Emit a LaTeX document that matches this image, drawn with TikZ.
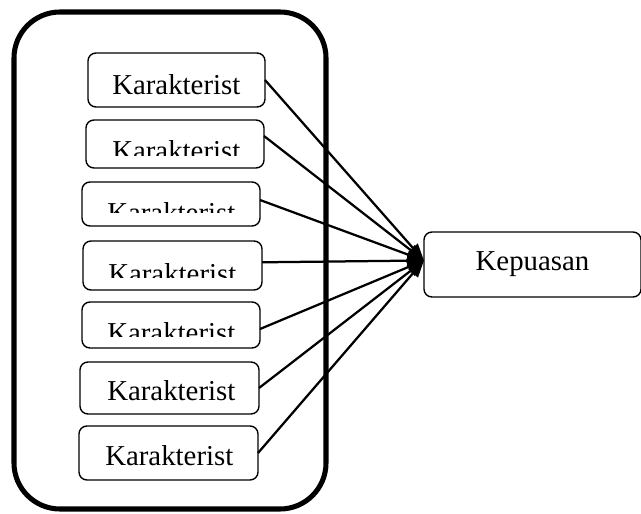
\documentclass[tikz,border=0pt]{standalone}
\usepackage{fontspec}
\setmainfont{Liberation Serif}
\usetikzlibrary{arrows.meta}

\tikzset{
    kotak/.style={draw, rounded corners=0.2cm, line width=1pt, inner sep=0pt, outer sep=0pt},
    teks/.style={anchor=base west, inner sep=0pt, font=\fontsize{20.5}{24}\selectfont},
    panah/.style={-{Triangle[length=12pt, width=9pt]}, line width=1.6pt}
}

\begin{document}
\begin{tikzpicture}[x=0.025cm, y=-0.025cm]
    \useasboundingbox (0,0) rectangle (641,514);

    % Bingkai luar
    \draw[line width=3.6pt, rounded corners=1.15cm] (14,12) rectangle (326,509);

    % Kotak karakteristik
    \node[kotak, minimum width=4.425cm, minimum height=1.35cm] (k1) at (176.5,80) {};
    \node[kotak, minimum width=4.45cm, minimum height=1.2cm] (k2) at (175,144) {};
    \node[kotak, minimum width=4.45cm, minimum height=1.1cm] (k3) at (171,204) {};
    \node[kotak, minimum width=4.475cm, minimum height=1.225cm] (k4) at (172.5,265.5) {};
    \node[kotak, minimum width=4.45cm, minimum height=1.15cm] (k5) at (171,325) {};
    \node[kotak, minimum width=4.475cm, minimum height=1.3cm] (k6) at (169.5,388) {};
    \node[kotak, minimum width=4.475cm, minimum height=1.35cm] (k7) at (168.5,453) {};

    % Teks (sebagian terpotong)
    \node[teks] (t1) at (112,94) {Karakterist};
    \begin{scope}
        \clip (86,120) rectangle (264,155);
        \node[teks] (t2) at (112,160) {Karakterist};
    \end{scope}
    \begin{scope}
        \clip (82,182) rectangle (260,212);
        \node[teks] (t3) at (107,222) {Karakterist};
    \end{scope}
    \begin{scope}
        \clip (83,241) rectangle (262,277);
        \node[teks] (t4) at (108,283) {Karakterist};
    \end{scope}
    \begin{scope}
        \clip (82,302) rectangle (260,336);
        \node[teks] (t5) at (107,342) {Karakterist};
    \end{scope}
    \node[teks] (t6) at (107,400) {Karakterist};
    \node[teks] (t7) at (105,465) {Karakterist};

    % Kepuasan
    \node[kotak, minimum width=5.425cm, minimum height=1.625cm, font=\fontsize{20.5}{24}\selectfont] (kep) at (532.5,264.5) {Kepuasan};
    \coordinate (tuju) at ([yshift=0.1cm]kep.west);

    % Panah
    \draw[panah] (k1.east) -- (tuju);
    \draw[panah] ([yshift=0.2cm]k2.east) -- (tuju);
    \draw[panah] ([yshift=0.1cm]k3.east) -- (tuju);
    \draw[panah] ([yshift=0.08cm]k4.east) -- (tuju);
    \draw[panah] ([yshift=-0.1cm]k5.east) -- (tuju);
    \draw[panah] (k6.east) -- (tuju);
    \draw[panah] (k7.east) -- (tuju);
\end{tikzpicture}
\end{document}
